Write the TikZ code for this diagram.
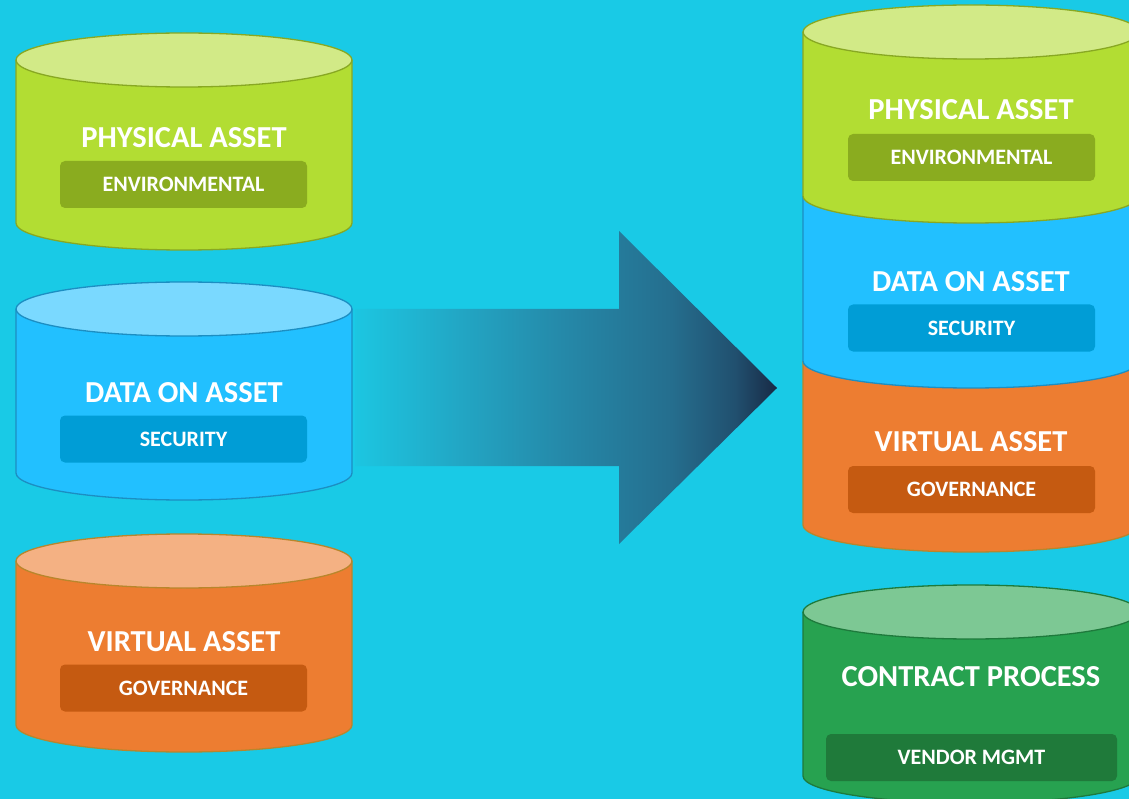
\documentclass[tikz,border=0pt]{standalone}
\usepackage{fontspec}
\setmainfont{Carlito}
\definecolor{bg}{HTML}{19CAE6}
\definecolor{gside}{HTML}{B2DD33}
\definecolor{gtop}{HTML}{D2EA87}
\definecolor{gline}{HTML}{88A822}
\definecolor{gbox}{HTML}{8AAC1F}
\definecolor{bside}{HTML}{22C0FF}
\definecolor{btop}{HTML}{7AD9FF}
\definecolor{bline}{HTML}{1C8EC2}
\definecolor{bbox}{HTML}{009DD6}
\definecolor{oside}{HTML}{ED7D31}
\definecolor{otop}{HTML}{F4B183}
\definecolor{oline}{HTML}{B8862C}
\definecolor{obox}{HTML}{C55A11}
\definecolor{dside}{HTML}{27A250}
\definecolor{dtop}{HTML}{7DC894}
\definecolor{dline}{HTML}{1E7A3C}
\definecolor{dbox}{HTML}{1F7A3A}
\definecolor{a0}{HTML}{1CC6E1}
\definecolor{a1}{HTML}{22A6C4}
\definecolor{a2}{HTML}{2588A8}
\definecolor{a3}{HTML}{256E8E}
\definecolor{a4}{HTML}{21506F}
\definecolor{a5}{HTML}{182A45}
\pgfdeclarehorizontalshading{arrowshade}{100bp}{color(0bp)=(a0); color(25bp)=(a0); color(37.5bp)=(a1); color(50bp)=(a2); color(62.5bp)=(a3); color(70bp)=(a4); color(75bp)=(a5); color(100bp)=(a5)}
\newcommand\cylbody[5]{%
  \fill[#4] ({#1-168},#2) -- ({#1-168},#3) arc[start angle=180,end angle=360,x radius=168pt,y radius=27pt] -- ({#1+168},#2) -- cycle;
  \draw[#5,line width=1.3pt] ({#1-168},#2) -- ({#1-168},#3) arc[start angle=180,end angle=360,x radius=168pt,y radius=27pt] -- ({#1+168},#2);}
\newcommand\cyltop[4]{\draw[fill=#3,draw=#4,line width=1.3pt] (#1,#2) ellipse[x radius=168pt,y radius=27pt];}
\tikzset{
  ttl/.style={text=white,font=\fontsize{30.5}{32}\selectfont\bfseries,inner sep=0pt},
  subbox/.style={text=white,font=\fontsize{22}{24}\selectfont\bfseries,rounded corners=5pt,minimum width=247pt,minimum height=47pt,inner sep=0pt},
}
\begin{document}
\begin{tikzpicture}[x=1pt,y=-1pt]
\useasboundingbox (0,0) rectangle (1129,799);
\fill[bg] (0,0) rectangle (1129,799);
% left cylinders
\cylbody{184}{60}{223}{gside}{gline}\cyltop{184}{60}{gtop}{gline}
\cylbody{184}{309}{473}{bside}{bline}\cyltop{184}{309}{btop}{bline}
\cylbody{184}{561}{725}{oside}{oline}\cyltop{184}{561}{otop}{oline}
\node[ttl] (l1) at (184,138) {PHYSICAL ASSET};
\node[subbox,fill=gbox] (l1s) at (183.5,184.5) {ENVIRONMENTAL};
\node[ttl] (l2) at (184,393) {DATA ON ASSET};
\node[subbox,fill=bbox] (l2s) at (183.5,439) {SECURITY};
\node[ttl] (l3) at (184,642) {VIRTUAL ASSET};
\node[subbox,fill=obox] (l3s) at (183.5,688) {GOVERNANCE};
% arrow
\shade[shading=arrowshade] (355,309) -- (619,309) -- (619,231) -- (777,388) -- (619,544) -- (619,466) -- (355,466) -- cycle;
% right stack
\cylbody{971}{361}{525}{oside}{oline}
\cylbody{971}{196}{361}{bside}{bline}
\cylbody{971}{32}{196}{gside}{gline}\cyltop{971}{32}{gtop}{gline}
\node[ttl] (r1) at (971,110) {PHYSICAL ASSET};
\node[subbox,fill=gbox] (r1s) at (971.5,157.5) {ENVIRONMENTAL};
\node[ttl] (r2) at (971,282) {DATA ON ASSET};
\node[subbox,fill=bbox] (r2s) at (971.5,328) {SECURITY};
\node[ttl] (r3) at (971,442) {VIRTUAL ASSET};
\node[subbox,fill=obox] (r3s) at (971.5,489.5) {GOVERNANCE};
% contract cylinder
\cylbody{971}{612}{776}{dside}{dline}\cyltop{971}{612}{dtop}{dline}
\node[ttl] (r4) at (971,677) {CONTRACT PROCESS};
\node[subbox,fill=dbox,minimum width=291pt] (r4s) at (971.5,757.5) {VENDOR MGMT};
\end{tikzpicture}
\end{document}
